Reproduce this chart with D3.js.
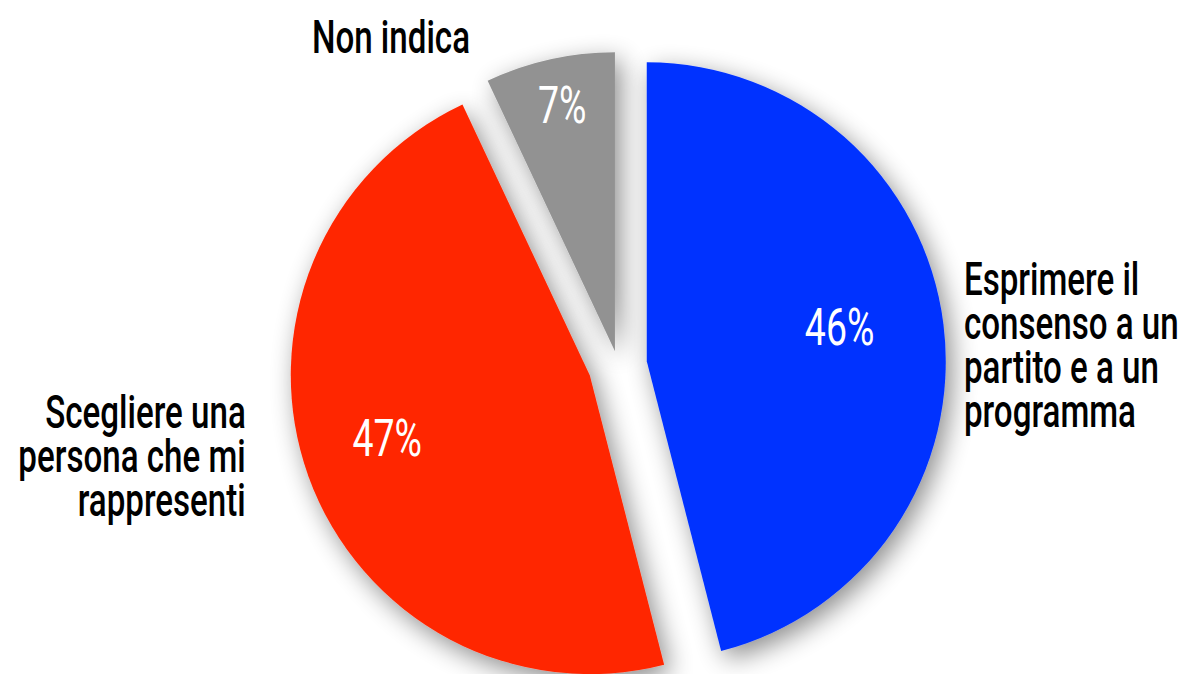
<!DOCTYPE html>
<html lang="it">
<head>
  <meta charset="UTF-8">
  <title>Pie</title>
  <script src="https://cdn.jsdelivr.net/npm/d3@7"></script>
  <style>
    body { margin: 0; background: #fff; }
    .pct { font-family: Roboto, 'Liberation Sans', sans-serif; font-size: 52px; font-weight: 400; fill: #fff; }
    .lbl { font-family: Roboto, 'Liberation Sans', sans-serif; font-size: 46px; font-weight: 500; fill: #000; }
  </style>
</head>
<body>
<div class="container"></div>
<script>
  // data
  var categories = ['Esprimere il consenso a un partito e a un programma',
                    'Scegliere una persona che mi rappresenti',
                    'Non indica'];
  var labelLines = [['Esprimere il', 'consenso a un', 'partito e a un', 'programma'],
                    ['Scegliere una', 'persona che mi', 'rappresenti'],
                    ['Non indica']];
  var values = [46, 47, 7];
  var colors = ['#0433FF', '#FF2600', '#929292'];

  var svgWidth = 1181, svgHeight = 674;
  var cx = 618, cy = 365, R = 299;
  var explode = [29, 30, 14];        // how far each slice is pulled out
  var pctRadius = [0.65, 0.72, 0.81]; // where the % sits inside each slice
  var lineH = 44;
  var squeeze = 0.72;                // no condensed font installed, so squash text

  var svg = d3.select('.container').append('svg')
              .attr('width', svgWidth)
              .attr('height', svgHeight);

  var defs = svg.append('defs');
  var f = defs.append('filter').attr('id', 'shadow')
              .attr('x', '-25%').attr('y', '-25%').attr('width', '150%').attr('height', '150%');
  f.append('feGaussianBlur').attr('in', 'SourceAlpha').attr('stdDeviation', 13).attr('result', 'b');
  f.append('feOffset').attr('in', 'b').attr('dx', 6).attr('dy', 8).attr('result', 'o');
  f.append('feComponentTransfer').attr('in', 'o').attr('result', 's')
    .append('feFuncA').attr('type', 'linear').attr('slope', 0.45);
  var m = f.append('feMerge');
  m.append('feMergeNode').attr('in', 's');
  m.append('feMergeNode').attr('in', 'SourceGraphic');

  var pie = d3.pie().sort(null).value(d => d)(values);
  var arc = d3.arc().innerRadius(0).outerRadius(R);

  function dir(d) {
    var a = (d.startAngle + d.endAngle) / 2;
    return [Math.sin(a), -Math.cos(a)];
  }

  var g = svg.append('g').attr('transform', `translate(${cx},${cy})`);

  var slices = g.selectAll('.slice')
    .data(pie)
    .enter().append('g')
    .attr('class', 'slice')
    .attr('transform', (d, i) => {
      var v = dir(d);
      return `translate(${v[0] * explode[i]},${v[1] * explode[i]})`;
    });

  slices.append('path')
    .attr('d', arc)
    .attr('fill', (d, i) => colors[i])
    .attr('filter', 'url(#shadow)');

  slices.append('text')
    .attr('class', 'pct')
    .attr('text-anchor', 'middle')
    .attr('dy', '0.15em')
    .attr('transform', (d, i) => {
      var v = dir(d);
      return `translate(${v[0] * R * pctRadius[i]},${v[1] * R * pctRadius[i]}) scale(${squeeze},1)`;
    })
    .text(d => d.value + '%');

  // outer labels
  var outer = [
    {x: cx + R * 1.157, y: cy - 70, anchor: 'start'},
    {x: cx - R * 1.245, y: cy + 63, anchor: 'end'},
    {x: cx - R * 0.495, y: cy - 312, anchor: 'end'}
  ];
  var lab = svg.append('g').selectAll('text')
    .data(labelLines)
    .enter().append('text')
    .attr('class', 'lbl')
    .attr('text-anchor', (d, i) => outer[i].anchor)
    .attr('transform', (d, i) => `translate(${outer[i].x},${outer[i].y}) scale(${squeeze},1)`);
  lab.selectAll('tspan')
    .data(d => d)
    .enter().append('tspan')
    .attr('x', 0)
    .attr('dy', (d, j) => j === 0 ? 0 : lineH)
    .text(d => d);
</script>
</body>
</html>
